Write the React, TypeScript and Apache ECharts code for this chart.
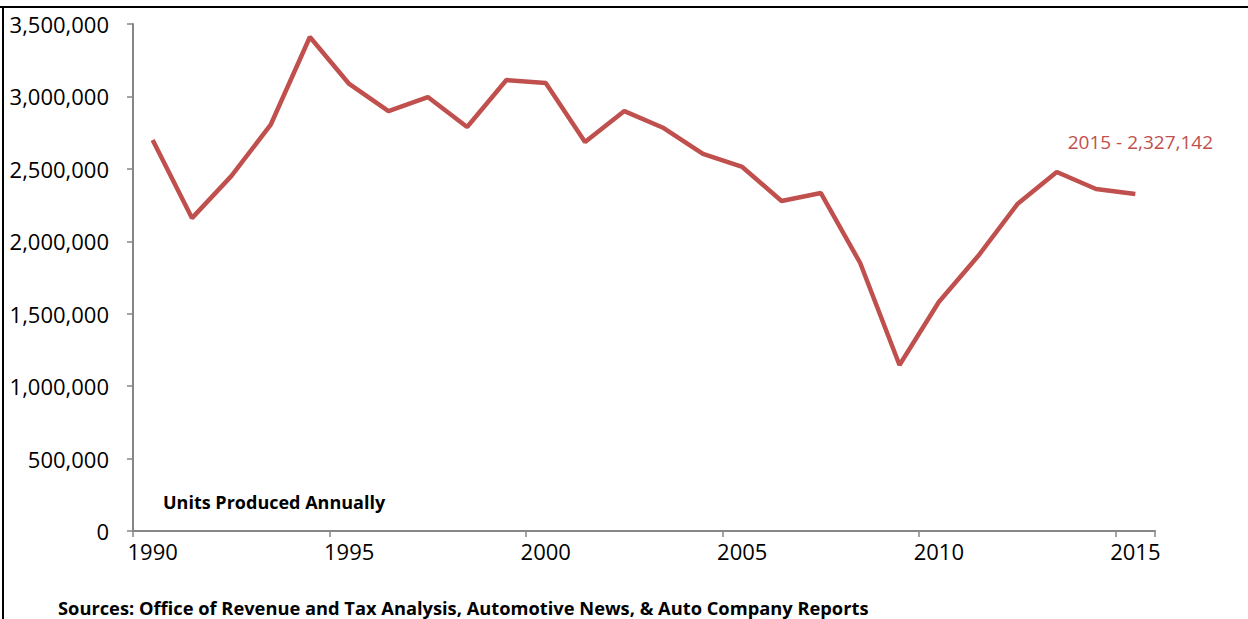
import React, { useEffect, useRef } from "react";
import * as echarts from "echarts";

const years = [
  "1990", "1991", "1992", "1993", "1994", "1995", "1996", "1997", "1998", "1999",
  "2000", "2001", "2002", "2003", "2004", "2005", "2006", "2007", "2008", "2009",
  "2010", "2011", "2012", "2013", "2014", "2015",
];
const units = [
  2700000, 2160000, 2450000, 2803000, 3410000, 3086000, 2899000, 2996000, 2789000, 3113000,
  3093000, 2685000, 2899000, 2782000, 2603000, 2513000, 2278000, 2333000, 1850000, 1146000,
  1581000, 1898000, 2257000, 2478000, 2361000, 2327142,
];
const lastLabel = "2015 - 2,327,142";
const innerTitle = "Units Produced Annually";
const sourceNote = "Sources: Office of Revenue and Tax Analysis, Automotive News, & Auto Company Reports";

const FONT = "'Open Sans', 'Noto Sans', sans-serif";

export default function App() {
  const ref = useRef<HTMLDivElement>(null);
  useEffect(() => {
    if (!ref.current) return;
    const chart = echarts.init(ref.current, undefined, { renderer: "svg" });
    const lastIdx = units.length - 1;
    chart.setOption({
      animation: false,
      backgroundColor: "#ffffff",
      grid: { left: 133, right: 93, top: 24, bottom: 88, containLabel: false },
      xAxis: {
        type: "category",
        data: years,
        boundaryGap: true,
        axisLine: { lineStyle: { color: "#868686", width: 2 } },
        axisTick: { show: true, interval: 4, length: 6, lineStyle: { color: "#868686", width: 1.5 } },
        axisLabel: { interval: 4, color: "#000", fontSize: 22, fontFamily: FONT, margin: 9 },
      },
      yAxis: {
        type: "value",
        min: 0,
        max: 3500000,
        interval: 500000,
        axisLine: { show: true, lineStyle: { color: "#868686", width: 2 } },
        axisTick: { show: true, length: 6, lineStyle: { color: "#868686", width: 1.5 } },
        splitLine: { show: false },
        axisLabel: {
          color: "#000",
          fontSize: 22,
          fontFamily: FONT,
          margin: 24,
          formatter: (v: number) => v.toLocaleString("en-US"),
        },
      },
      series: [
        {
          type: "line",
          data: units,
          symbol: "none",
          lineStyle: { color: "#C0504D", width: 4.5 },
          itemStyle: { color: "#C0504D" },
          markPoint: {
            symbol: "circle",
            symbolSize: 0,
            data: [
              {
                coord: [years[lastIdx], units[lastIdx]],
                label: {
                  show: true,
                  position: "top",
                  offset: [5, -37],
                  formatter: lastLabel,
                  color: "#C0504D",
                  fontSize: 19,
                  fontFamily: FONT,
                },
              },
            ],
          },
        },
      ],
      graphic: [
        { type: "line", shape: { x1: 0, y1: 7, x2: 1248, y2: 7 }, style: { stroke: "#000", lineWidth: 2 } },
        { type: "line", shape: { x1: 3, y1: 6, x2: 3, y2: 619 }, style: { stroke: "#000", lineWidth: 2 } },
        {
          type: "text",
          left: 163,
          top: 493,
          style: { text: innerTitle, fill: "#000", font: `bold 18px ${FONT}` },
        },
        {
          type: "text",
          left: 58,
          top: 598,
          style: { text: sourceNote, fill: "#000", font: `bold 18.3px ${FONT}` },
        },
      ],
    });
    return () => chart.dispose();
  }, []);
  return (
    <div
      ref={ref}
      style={{ position: "fixed", left: 0, top: 0, width: 1248, height: 619 }}
    />
  );
}
